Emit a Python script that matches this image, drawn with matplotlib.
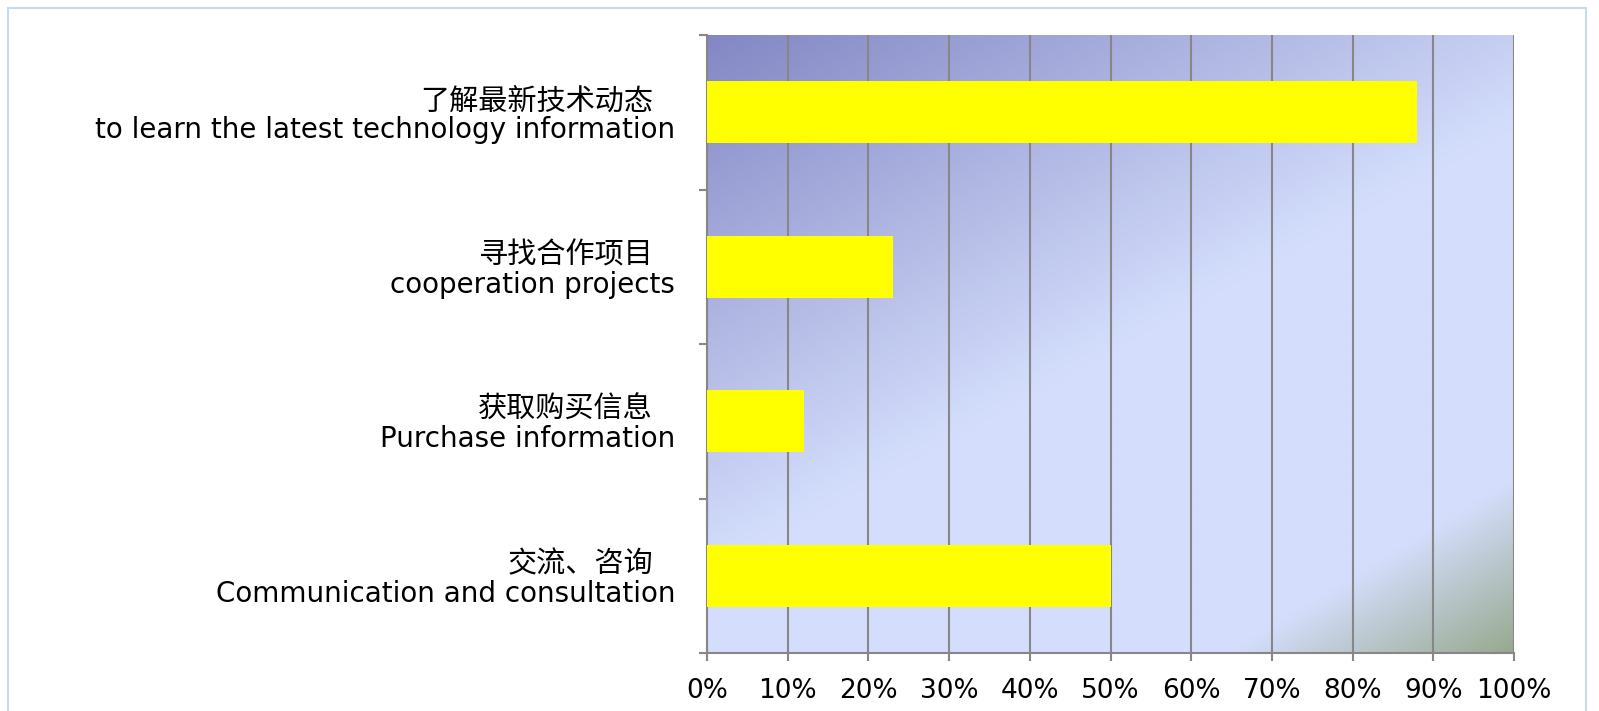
import numpy as np
import matplotlib.pyplot as plt
from matplotlib.colors import to_rgb
from matplotlib.ticker import FixedLocator, PercentFormatter
from matplotlib.transforms import blended_transform_factory, offset_copy

plt.rcParams['font.family'] = ['DejaVu Sans', 'Noto Sans CJK SC']

labels_cn = ['了解最新技术动态', '寻找合作项目', '获取购买信息', '交流、咨询']
labels_en = ['to learn the latest technology information', 'cooperation projects',
             'Purchase information', 'Communication and consultation']
values = [88, 23, 12, 50]
x_ticks = [0, 10, 20, 30, 40, 50, 60, 70, 80, 90, 100]

fig = plt.figure(figsize=(15.99, 7.11), dpi=100)

# slide frame
frame = plt.Rectangle((8 / 1599, -0.1), (1586 - 8) / 1599, 1.1 - 8 / 711,
                      transform=fig.transFigure, fill=False,
                      edgecolor='#c9d9f2', lw=1.5)
fig.patches.append(frame)

ax = fig.add_axes([707 / 1599, 58 / 711, 807 / 1599, 618 / 711])

n = len(values)
ypos = np.arange(n)[::-1]

# diagonal gradient fill behind the plot
h, w = 200, 260
u = np.linspace(0, 1, w)[None, :]
d = np.linspace(0, 1, h)[:, None]
s = (0.72 * u + d) / 0.87
dark = np.array(to_rgb('#8387c4'))
light = np.array(to_rgb('#d4defc'))
green = np.array(to_rgb('#97a98f'))
t1 = np.clip(s, 0, 1)[..., None]
img = dark * (1 - t1) + light * t1
g = u + 1.25 * d
t2 = np.clip((g - 1.9) / 0.35, 0, 1)[..., None]
img = img * (1 - t2) + green * t2
ax.imshow(img, extent=[0, 100, -0.5, n - 0.5], aspect='auto', zorder=0,
          origin='upper', interpolation='bilinear')

ax.barh(ypos, values, height=0.40, color='#ffff00', zorder=3)

ax.set_xlim(0, 100)
ax.set_ylim(-0.5, n - 0.5)
ax.set_xticks(x_ticks)
ax.xaxis.set_major_formatter(PercentFormatter(decimals=0))
ax.grid(axis='x', color='#878787', lw=1.5)
for gl in ax.get_xgridlines():
    gl.set_zorder(1)

ax.yaxis.set_major_locator(FixedLocator(np.arange(-0.5, n, 1.0)))
ax.yaxis.set_major_formatter(plt.NullFormatter())
ax.tick_params(axis='y', length=6, width=1.5, color='#878787')
ax.tick_params(axis='x', length=6, width=1.5, color='#878787', labelsize=19, pad=12)

# two-line category labels: Chinese above, English below
tr = blended_transform_factory(ax.transAxes, ax.transData)
tr_cn = offset_copy(tr, fig=fig, x=-54, y=11, units='dots')
tr_en = offset_copy(tr, fig=fig, x=-32, y=-26, units='dots')
for y, cn, en in zip(ypos, labels_cn, labels_en):
    ax.text(0, y, cn, transform=tr_cn, ha='right', va='center', fontsize=21,
            family=['Noto Sans CJK SC', 'DejaVu Sans'])
    ax.text(0, y, en, transform=tr_en, ha='right', va='baseline', fontsize=20)

for side in ['top', 'right']:
    ax.spines[side].set_visible(False)
for side in ['left', 'bottom']:
    ax.spines[side].set_color('#878787')
    ax.spines[side].set_linewidth(1.5)

plt.savefig('out.png', dpi=100)
